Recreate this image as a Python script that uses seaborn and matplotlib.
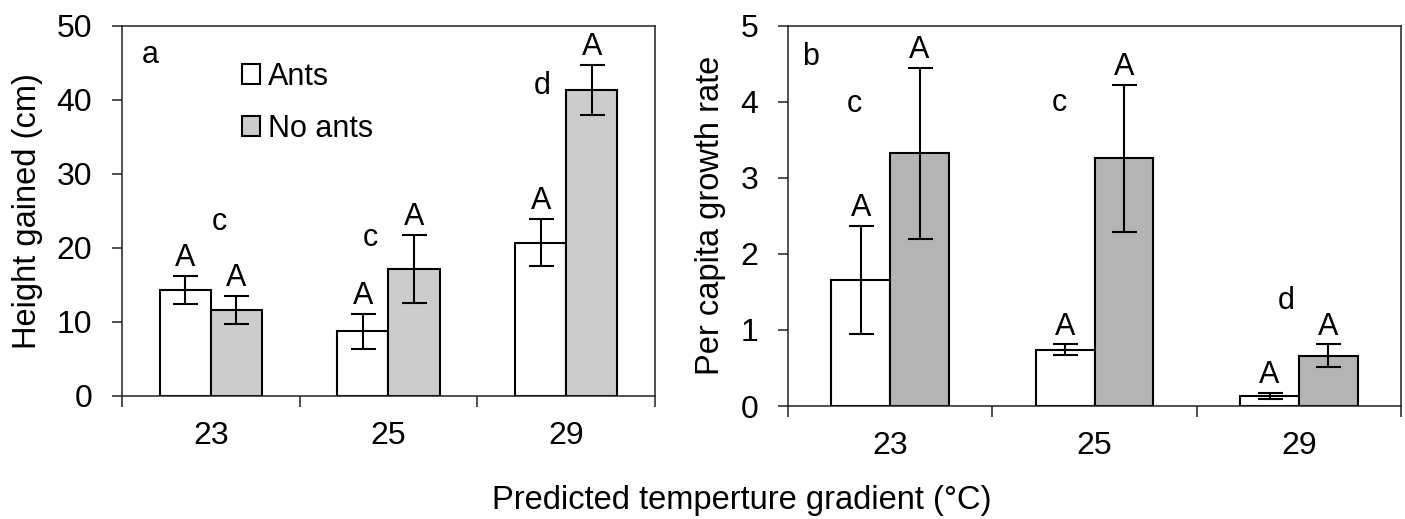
import matplotlib
matplotlib.use("Agg")
import matplotlib.pyplot as plt
import seaborn as sns
import pandas as pd
from matplotlib.patches import Patch

# values
temps = ["23", "25", "29"]
treatments = ["Ants", "No ants"]

height_ants = [14.3, 8.7, 20.7]
height_noants = [11.6, 17.1, 41.3]
height_ants_se = [1.9, 2.4, 3.15]
height_noants_se = [1.85, 4.6, 3.4]

growth_ants = [1.66, 0.74, 0.135]
growth_noants = [3.32, 3.255, 0.66]
growth_ants_se = [0.71, 0.07, 0.04]
growth_noants_se = [1.13, 0.965, 0.15]

sns.set_style("ticks")
plt.rcParams['font.family'] = ['Liberation Sans', 'DejaVu Sans']
plt.rcParams['font.size'] = 22
plt.rcParams['text.color'] = 'black'
plt.rcParams['axes.labelcolor'] = 'black'
plt.rcParams['xtick.color'] = 'black'
plt.rcParams['ytick.color'] = 'black'


def make_df(a, n):
    return pd.DataFrame({
        "temp": temps * 2,
        "treat": [treatments[0]] * 3 + [treatments[1]] * 3,
        "val": a + n,
    })


def panel(ax, df, grey, errs, ymax, ystep, letter, letter_xy, group_letters):
    sns.barplot(data=df, x="temp", y="val", hue="treat", order=temps,
                hue_order=treatments, palette=["white", grey], width=0.575,
                edgecolor="black", linewidth=1.5, errorbar=None, ax=ax,
                legend=False)
    # error bars and "A" labels on top of each bar
    for cont, se in zip(ax.containers, errs):
        for p, e in zip(cont.patches, se):
            xc = p.get_x() + p.get_width() / 2
            h = p.get_height()
            ax.errorbar(xc, h, yerr=e, color="black", lw=1.5,
                        capsize=9, capthick=1.5)
            ax.annotate("A", (xc, h + e), xytext=(0, 7),
                        textcoords="offset points", ha="center",
                        va="baseline", fontsize=22)
    for (x, y, t) in group_letters:
        ax.text(x, y, t, ha="center", va="center", fontsize=22)
    ax.text(letter_xy[0], letter_xy[1], letter, transform=ax.transAxes,
            fontsize=22, va="center", ha="center")
    ax.set_xlim(-0.5, 2.5)
    ax.set_ylim(0, ymax)
    ax.set_yticks([i * ystep for i in range(6)])
    ax.set_xticks([-0.5, 0.5, 1.5, 2.5], minor=True)
    ax.tick_params(axis="x", which="major", length=0, pad=18, labelsize=23)
    ax.tick_params(axis="x", which="minor", length=8, width=1.1,
                   direction="out", color="#222222")
    ax.tick_params(axis="y", length=7.5, width=1.1, direction="out",
                   pad=14, labelsize=23, color="#222222")
    ax.set_xlabel("")
    for s in ax.spines.values():
        s.set_visible(True)
        s.set_linewidth(1.1)
        s.set_color("#222222")


fig = plt.figure(figsize=(14.05, 5.19), dpi=100)
ax1 = fig.add_axes([0.0868, 0.2376, 0.3794, 0.7129])
ax2 = fig.add_axes([0.5609, 0.2177, 0.4363, 0.7328])

df1 = make_df(height_ants, height_noants)
df2 = make_df(growth_ants, growth_noants)

panel(ax1, df1, "#cccccc", [height_ants_se, height_noants_se], 50, 10,
      "a", (0.053, 0.921),
      [(0.05, 23.5, "c"), (0.896, 21.3, "c"), (1.865, 41.8, "d")])
panel(ax2, df2, "#b4b4b4", [growth_ants_se, growth_noants_se], 5, 1,
      "b", (0.036, 0.918),
      [(-0.177, 3.97, "c"), (0.826, 3.98, "c"), (1.94, 1.38, "d")])

ax1.set_ylabel("Height gained (cm)", fontsize=23.5, labelpad=10)
ax2.set_ylabel("Per capita growth rate", fontsize=23.5, labelpad=10)

handles = [Patch(facecolor="white", edgecolor="black", lw=1.5),
           Patch(facecolor="#cccccc", edgecolor="black", lw=1.5)]
ax1.legend(handles, treatments, loc="upper left",
           bbox_to_anchor=(0.225, 0.903), frameon=False, fontsize=22,
           handlelength=0.6, handleheight=0.6, handletextpad=0.25,
           labelspacing=0.72, borderaxespad=0, borderpad=0)

fig.text(0.528, 0.036, "Predicted temperture gradient (°C)", ha="center",
         va="center", fontsize=23.5)

fig.savefig("out.png", dpi=100)
